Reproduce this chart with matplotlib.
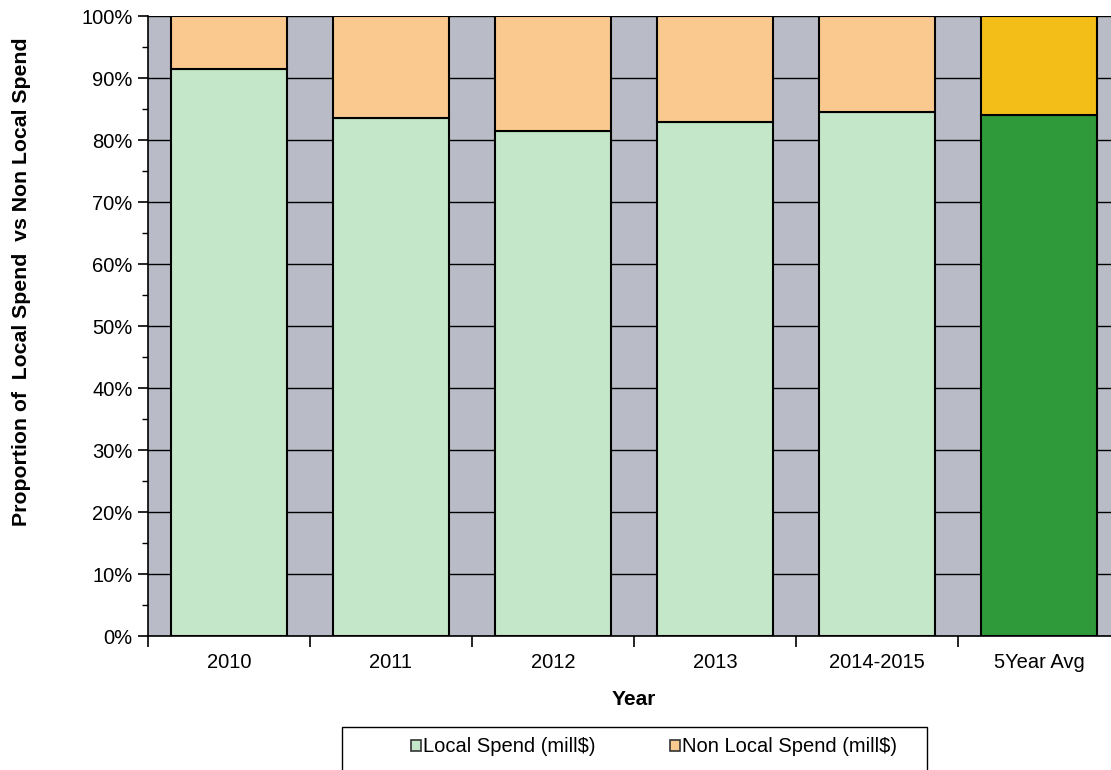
import numpy as np
import matplotlib
matplotlib.use('Agg')
import matplotlib.pyplot as plt
from matplotlib.patches import Rectangle, Patch
from matplotlib.ticker import MultipleLocator, FuncFormatter

plt.rcParams['font.family'] = ['Liberation Sans', 'DejaVu Sans']

# Share of spend per year (%)
years = ['2010', '2011', '2012', '2013', '2014-2015', '5Year Avg']
local_spend = [91.5, 83.6, 81.5, 82.9, 84.5, 84.1]
non_local_spend = [8.5, 16.4, 18.5, 17.1, 15.5, 15.9]

local_colors = ['#c5e7c9'] * 5 + ['#2e9a3a']
non_local_colors = ['#f9c98f'] * 5 + ['#f4be18']

fig = plt.figure(figsize=(11.11, 7.7), dpi=100)
ax = fig.add_axes([148 / 1111, 134 / 770, 972 / 1111, 620 / 770])
ax.set_facecolor('#b9bcc6')

x = np.arange(len(years))
ax.bar(x, local_spend, width=0.72, color=local_colors, edgecolor='black', linewidth=1.5, zorder=3)
ax.bar(x, non_local_spend, width=0.72, bottom=local_spend, color=non_local_colors,
       edgecolor='black', linewidth=1.5, zorder=3)

ax.set_xlim(-0.5, len(years) - 0.5)
ax.set_ylim(0, 100)

# y axis: percent labels every 10, minor ticks every 5
ax.yaxis.set_major_locator(MultipleLocator(10))
ax.yaxis.set_minor_locator(MultipleLocator(5))
ax.yaxis.set_major_formatter(FuncFormatter(lambda v, p: f'{v:.0f}%'))
ax.tick_params(axis='y', which='major', length=7, width=1.2, labelsize=14.5, pad=4)
ax.tick_params(axis='y', which='minor', length=4, width=1.0)
ax.yaxis.grid(True, which='major', color='black', linewidth=1.0, zorder=1)
ax.set_axisbelow(True)

# x axis: labels at centres, ticks at category boundaries
ax.set_xticks(x)
ax.set_xticklabels(years)
ax.set_xticks(np.arange(-0.5, len(years)), minor=True)
ax.tick_params(axis='x', which='major', length=0, labelsize=14.5, pad=12)
ax.tick_params(axis='x', which='minor', length=8, width=1.2)

for side in ['top', 'right']:
    ax.spines[side].set_visible(False)
ax.spines['left'].set_linewidth(1.2)
ax.spines['bottom'].set_linewidth(1.2)

ax.set_xlabel('Year', fontsize=15, fontweight='bold', labelpad=13)
fig.text(22 / 1111, 1 - 282 / 770, 'Proportion of  Local Spend  vs Non Local Spend',
         rotation=90, ha='center', va='center', fontsize=15.3, fontweight='bold')

# legend in a box under the axis
handles = [Patch(facecolor='#c5e7c9', edgecolor='#333333', linewidth=1.2, label='Local Spend (mill$)'),
           Patch(facecolor='#f9c98f', edgecolor='#333333', linewidth=1.2, label='Non Local Spend (mill$)')]
fig.legend(handles=handles, loc='center left', bbox_to_anchor=(411 / 1111, 1 - 747 / 770),
           ncol=2, frameon=False, fontsize=14.5, handlelength=0.5, handleheight=0.5,
           handletextpad=0.1, columnspacing=3.7, borderaxespad=0, borderpad=0)
fig.patches.append(Rectangle((342 / 1111, -0.05), 585 / 1111, 0.05 + 43 / 770,
                             transform=fig.transFigure, fill=False,
                             edgecolor='black', linewidth=1.0))

fig.savefig('out.png', dpi=100)
